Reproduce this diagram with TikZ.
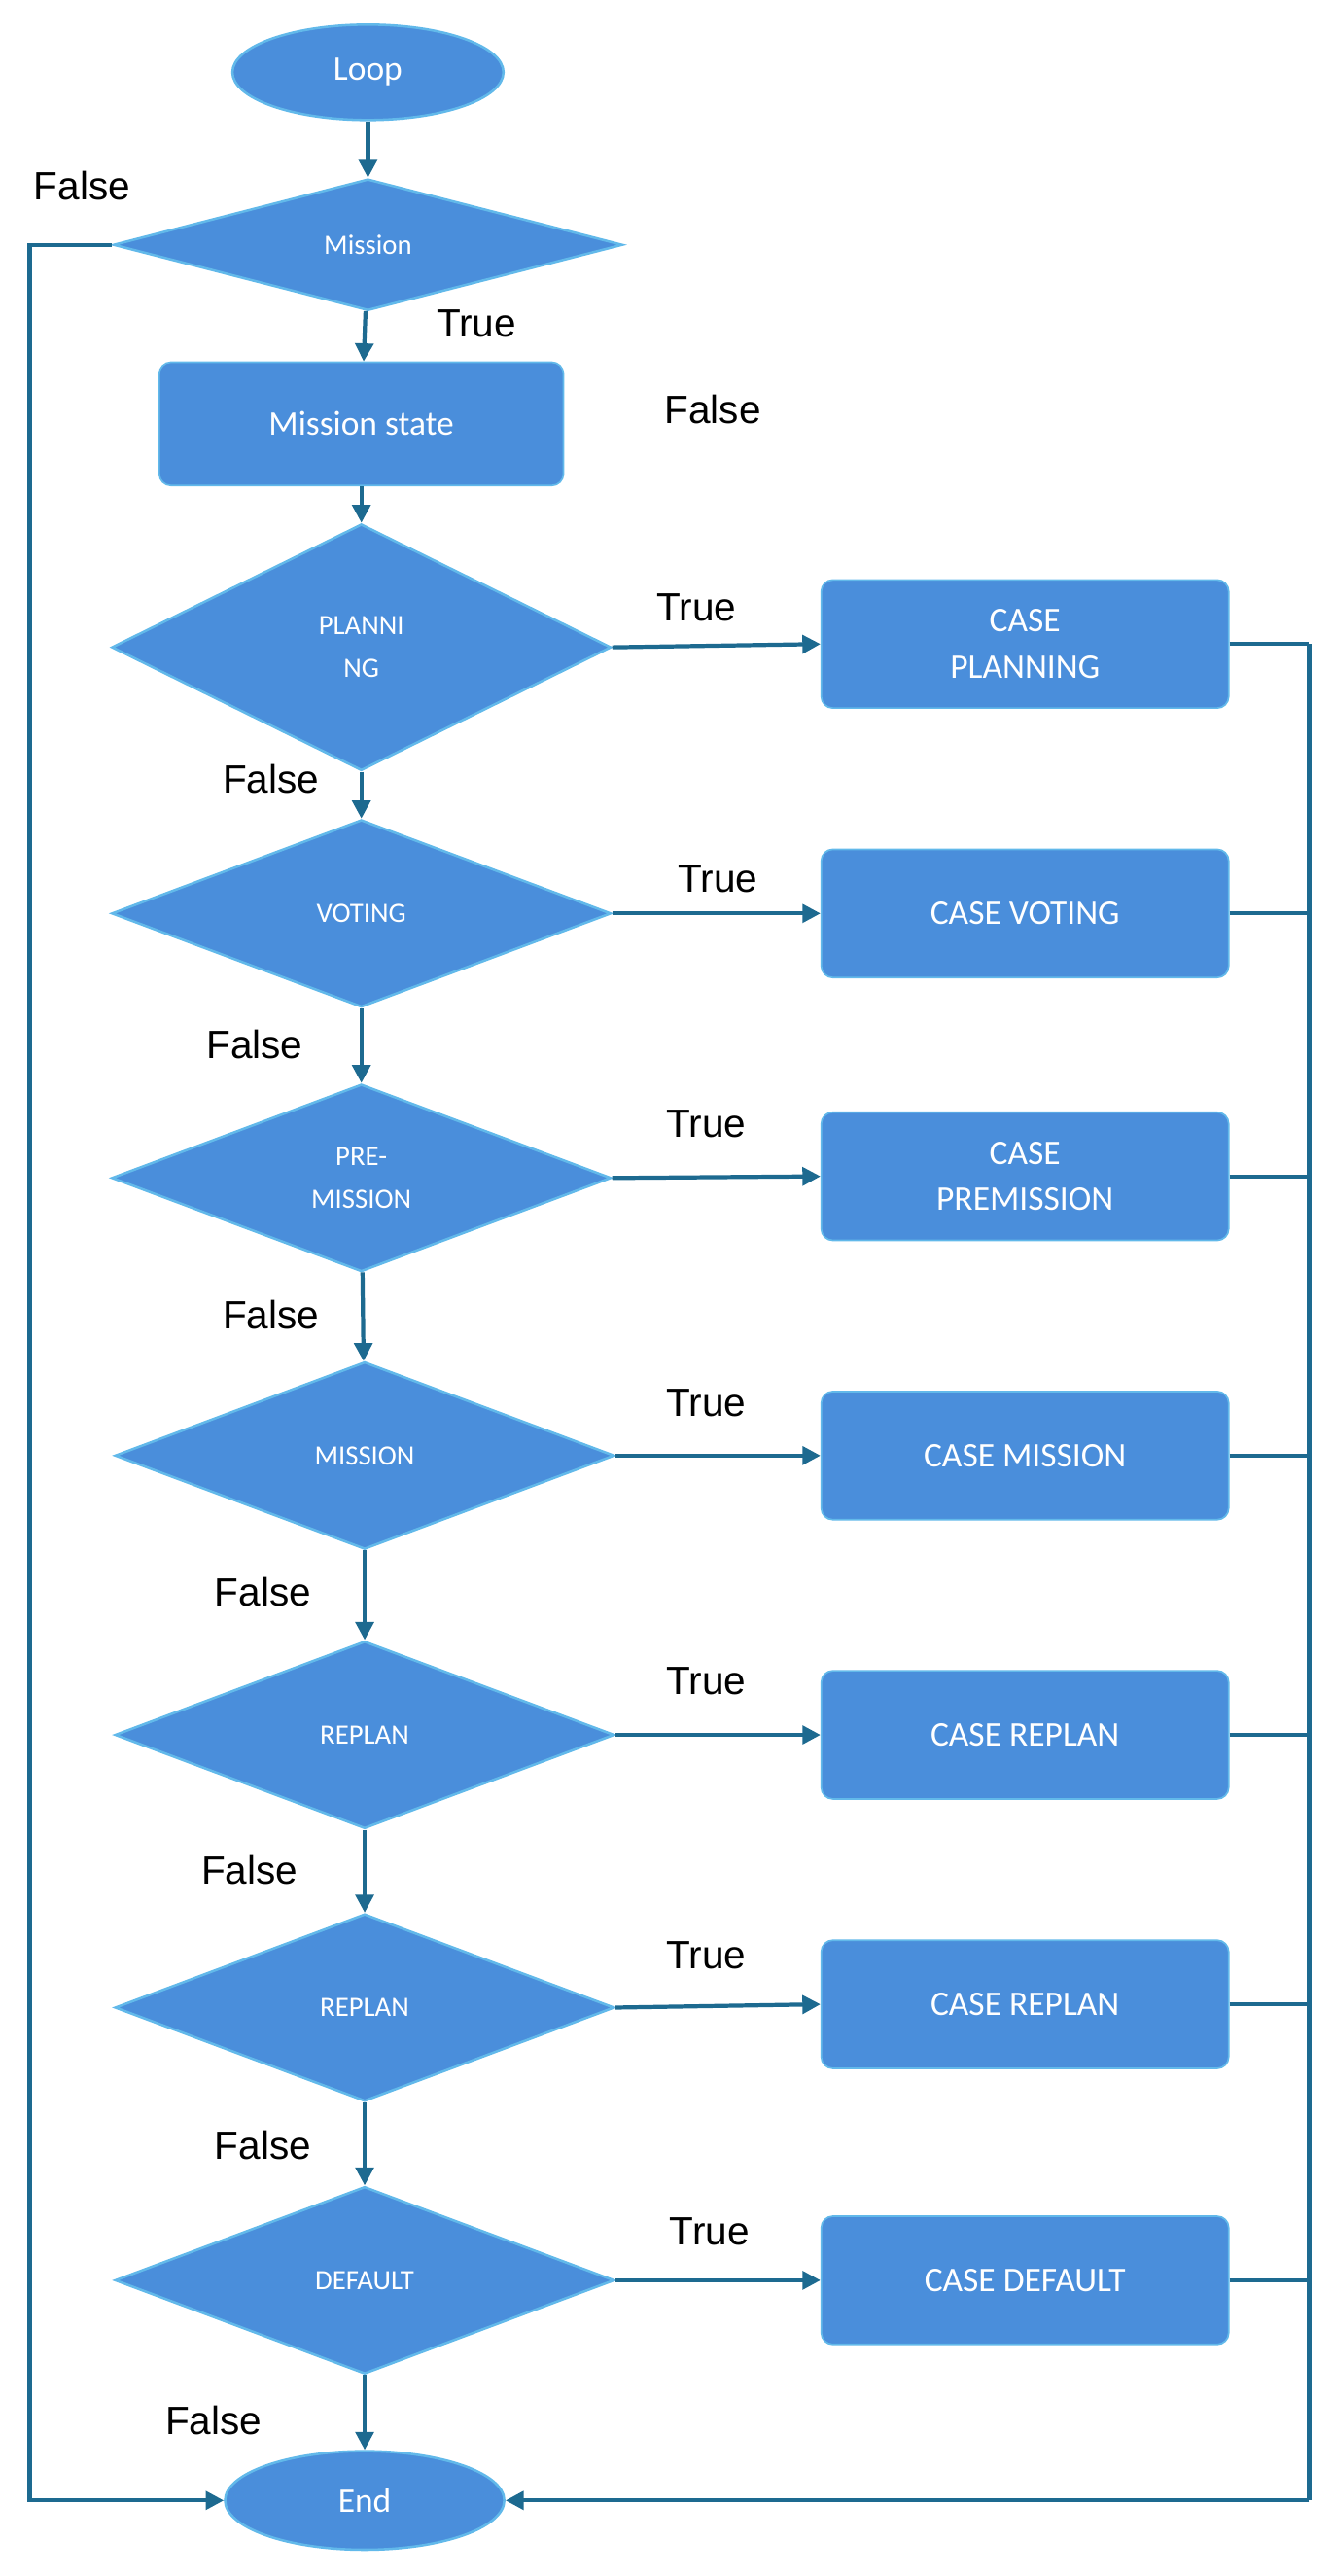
\documentclass[tikz,border=0pt]{standalone}
\usepackage{fontspec}
\setmainfont{Liberation Sans}
\newfontfamily\nodefont{Carlito}
\usetikzlibrary{shapes.geometric,arrows.meta}
\definecolor{fillb}{HTML}{4A8EDB}
\definecolor{edgeb}{HTML}{62B9EA}
\definecolor{linec}{HTML}{1D6A90}
\begin{document}
\begin{tikzpicture}[x=1pt,y=-1pt,
  every node/.style={inner sep=0pt},
  term/.style={ellipse,fill=fillb,draw=edgeb,line width=1.5pt,minimum width=165pt,minimum height=58pt,text=white,font=\nodefont\fontsize{21}{24}\selectfont},
  dec/.style={diamond,fill=fillb,draw=edgeb,line width=1.5pt,minimum width=304pt,minimum height=114pt,text=white,align=center,font=\nodefont\fontsize{17}{26}\selectfont},
  box/.style={rectangle,rounded corners=7pt,fill=fillb,draw=edgeb,line width=1pt,minimum width=248pt,minimum height=78pt,text=white,align=center,font=\nodefont\fontsize{21}{28}\selectfont},
  lbl/.style={font=\fontsize{24}{28}\selectfont},
  arr/.style={draw=linec,line width=2.5pt,-{Triangle[length=11pt,width=11pt]}},
  ln/.style={draw=linec,line width=2.5pt}]
\useasboundingbox (0,0) rectangle (811,1568);
\node[term] (loop) at (224,44) {Loop};
\node[dec,minimum width=310pt,minimum height=80pt] (m0) at (224,149) {Mission};
\node[box,minimum width=246pt,minimum height=75pt] (ms) at (220,258) {Mission state};
\node[dec,minimum height=150pt] (d1) at (220,394) {PLANNI\\NG};
\node[dec] (d2) at (220,556) {VOTING};
\node[dec] (d3) at (220,717) {PRE-\\MISSION};
\node[dec] (d4) at (222,886) {MISSION};
\node[dec] (d5) at (222,1056) {REPLAN};
\node[dec] (d6) at (222,1222) {REPLAN};
\node[dec] (d7) at (222,1388) {DEFAULT};
\node[term,minimum width=170pt,minimum height=60pt] (end) at (222,1522) {End};
\node[box] (c1) at (624,392) {CASE\\PLANNING};
\node[box] (c2) at (624,556) {CASE VOTING};
\node[box] (c3) at (624,716) {CASE\\PREMISSION};
\node[box] (c4) at (624,886) {CASE MISSION};
\node[box] (c5) at (624,1056) {CASE REPLAN};
\node[box] (c6) at (624,1220) {CASE REPLAN};
\node[box] (c7) at (624,1388) {CASE DEFAULT};
\coordinate (lt) at (18,149);
\coordinate (lb) at (18,1522);
\coordinate (rt) at (797,392);
\coordinate (rb) at (797,1522);
\path[arr] (loop) -- (m0);
\path[arr] (m0) -- (ms);
\path[arr] (ms) -- (d1);
\path[arr] (d1) -- (d2);
\path[arr] (d2) -- (d3);
\path[arr] (d3) -- (d4);
\path[arr] (d4) -- (d5);
\path[arr] (d5) -- (d6);
\path[arr] (d6) -- (d7);
\path[arr] (d7) -- (end);
\foreach \i in {1,...,7}{\path[arr] (d\i.east) -- (c\i.west -| c\i.west);}
\foreach \i in {1,...,7}{\path[ln] (c\i.east) -- (c\i.east -| rt);}
\path[ln] (rt) -- (rb);
\path[arr] (rb) -- (end.east);
\path[arr] (m0.west) -- (lt) -- (lb) -- (end.west);
\node[lbl] at (50,113) {False};
\node[lbl] at (290,197) {True};
\node[lbl] at (434,249) {False};
\node[lbl] at (424,370) {True};
\node[lbl] at (165,474) {False};
\node[lbl] at (437,535) {True};
\node[lbl] at (155,636) {False};
\node[lbl] at (430,684) {True};
\node[lbl] at (165,800) {False};
\node[lbl] at (430,854) {True};
\node[lbl] at (160,969) {False};
\node[lbl] at (430,1023) {True};
\node[lbl] at (152,1138) {False};
\node[lbl] at (430,1190) {True};
\node[lbl] at (160,1306) {False};
\node[lbl] at (432,1358) {True};
\node[lbl] at (130,1473) {False};
\end{tikzpicture}
\end{document}
